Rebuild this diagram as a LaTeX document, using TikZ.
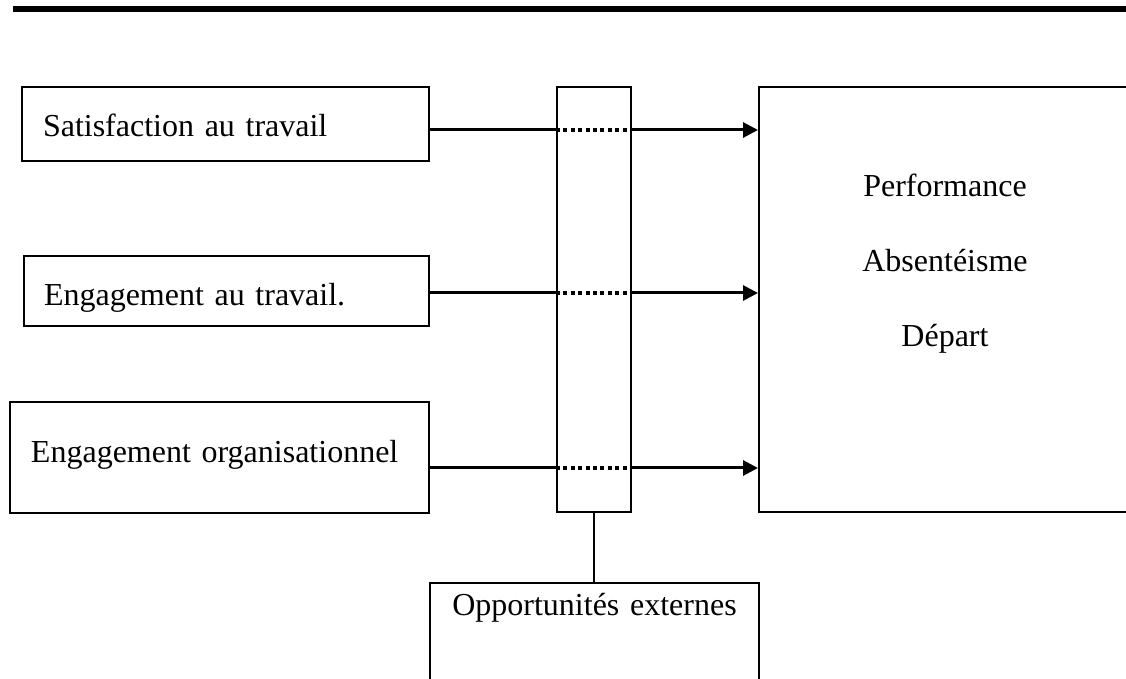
\documentclass[tikz,border=0pt]{standalone}
\usepackage{fontspec}
\setmainfont[WordSpace=0.55]{Liberation Serif}
\usetikzlibrary{arrows.meta}
\begin{document}
\begin{tikzpicture}[x=0.5pt,y=-0.5pt,
  txtfont/.style={font=\fontsize{16}{19}\selectfont},
  box/.style={draw, line width=1pt, inner ysep=0pt, anchor=north west, align=left, txtfont},
  plainbox/.style={draw, line width=1pt, inner sep=0pt, anchor=north west},
  link/.style={line width=1.5pt},
  dots/.style={line width=2pt, dash pattern=on 2pt off 1.7pt},
  arr/.style={line width=1.5pt, -{Triangle[length=7.5pt,width=7.5pt]}},
  txt/.style={txtfont, anchor=base, inner sep=0pt}]
\clip (0,0) rectangle (1126,679);
\draw[line width=3pt] (13,9) -- (1126,9);
% left boxes
\node[box, inner xsep=10.5pt, text width=182.5pt, text height=25pt, text depth=12pt] (sat) at (21,86) {Satisfaction au travail};
\node[box, inner xsep=10pt, text width=182.5pt, text height=25pt, text depth=10pt] (eng) at (23,255) {Engagement au travail.};
\node[box, inner xsep=10.5pt, text width=188.5pt, text height=30.5pt, text depth=25pt] (org) at (9,401) {Engagement organisationnel};
% middle column
\node[plainbox, minimum width=37pt, minimum height=212.5pt] (mid) at (556,86) {};
% result box
\node[plainbox, minimum width=191pt, minimum height=212.5pt] (res) at (758,86) {};
\node[txt] (perf) at (945,197) {Performance};
\node[txt] (abs) at (945,272) {Absentéisme};
\node[txt] (dep) at (945,347) {Départ};
% bottom box
\node[draw, line width=1pt, anchor=north, inner sep=0pt, align=center, text width=164.5pt, text height=16.5pt, text depth=60pt, txtfont] (opp) at (594.5,582) {Opportunités externes};
% connectors
\coordinate (y1) at (0,130);
\coordinate (y2) at (0,293);
\coordinate (y3) at (0,468);
\foreach \s/\y in {sat/y1, eng/y2, org/y3} {
  \draw[link] (\s.east |- \y) -- (mid.west |- \y);
  \draw[dots] (mid.west |- \y) -- (mid.east |- \y);
  \draw[arr] (mid.east |- \y) -- (res.west |- \y);
}
\draw[line width=1pt] (mid.south) -- (mid.south |- opp.north);
\end{tikzpicture}
\end{document}
